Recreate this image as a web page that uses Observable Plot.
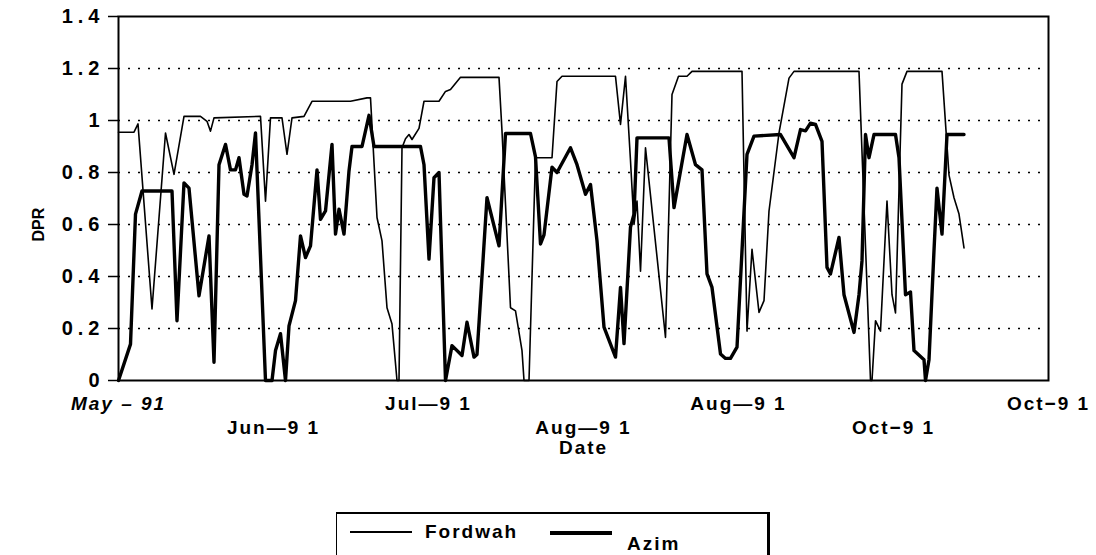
<!DOCTYPE html>
<html>
<head>
<meta charset="utf-8">
<script src="https://cdn.jsdelivr.net/npm/d3@7"></script>
<script src="https://cdn.jsdelivr.net/npm/@observablehq/plot@0.6"></script>
<style>
  html, body { margin: 0; padding: 0; background: #fff; width: 1096px; height: 555px; overflow: hidden; }
  #chart { position: absolute; left: 0; top: 0; }
  g[aria-label="y-axis tick label"] text { letter-spacing: 5px; }
  .xlab text { letter-spacing: 2px; }
  #legend { position: absolute; left: 336px; top: 512px; width: 430px; height: 60px;
            border-top: 2px solid #000; border-left: 1.5px solid #000; border-right: 3px solid #000;
            font-family: "Liberation Sans", Arial, sans-serif; font-weight: bold; font-size: 19px; letter-spacing: 2px; }
  .sw { position: absolute; height: 0; border-top-style: solid; border-top-color: #000; }
  .lt { position: absolute; line-height: 19px; }
</style>
</head>
<body>
<div id="chart"></div>
<div id="legend">
  <div class="sw" style="left:13px; top:17px; width:62px; border-top-width:2px;"></div>
  <div class="lt" style="left:88px; top:8px;">Fordwah</div>
  <div class="sw" style="left:213px; top:17px; width:62px; border-top-width:4px;"></div>
  <div class="lt" style="left:290px; top:20px;">Azim</div>
</div>
<script>
// ---- data (day index since 1 May 1991, DPR) ----
const fordwahDay = [0,3.1,3.9,6.7,9.4,11.1,13.1,16.4,17.7,18.4,19.1,28.4,29.4,30.4,32.7,33.7,34.7,37.1,38.7,46.4,
  49.7,50.4,51.7,52.7,53.7,54.7,55.7,56.1,56.7,57.4,58.1,58.7,60.1,61.1,64.1,65.4,66.4,68.4,76.1,76.7,
  78.4,79.4,80.7,81.1,82.1,83.4,86.7,87.7,88.7,99.4,100.4,101.4,102.4,103.1,103.7,104.4,105.4,109.4,110.7,112,
  113.7,114.7,124.7,125.7,126.7,128.1,129.1,130.1,132.1,134.1,135.1,148.1,150.4,150.7,151.4,152.4,153.7,154.7,155.4,156.7,
  157.7,164.7,166.1,167.1,168.1,169.1];
const fordwahDPR = [0.955,0.955,0.987,0.275,0.952,0.793,1.016,1.016,0.997,0.959,1.01,1.016,0.69,1.01,1.01,0.87,1.01,1.016,1.074,1.074,
  1.087,1.087,0.627,0.537,0.28,0.217,0,0,0.895,0.93,0.946,0.927,0.97,1.074,1.074,1.112,1.119,1.166,1.166,0.959,
  0.28,0.268,0.115,0,0,0.857,0.857,1.15,1.17,1.17,0.985,1.17,0.845,0.6,0.69,0.42,0.895,0.166,1.1,1.17,
  1.17,1.189,1.189,0.19,0.505,0.262,0.307,0.652,0.952,1.163,1.189,1.189,0,0,0.23,0.19,0.69,0.33,0.26,1.14,
  1.189,1.189,0.79,0.703,0.64,0.51];

const azimDay = [0,2.4,3.4,4.7,10.7,11.7,13.1,14.1,16.1,18.1,19.1,20.1,21.4,22.4,23.4,24.1,25.1,25.7,26.7,27.4,
  29.4,30.7,31.4,32.4,33.4,34.1,35.4,36.4,37.4,38.4,39.7,40.4,41.4,42.7,43.4,44.1,45.1,46.1,46.7,48.7,
  50.1,51.1,60.4,61.1,62.1,63.1,64.1,65.4,66.7,68.7,69.7,71.1,71.7,73.7,76.1,77.4,82.4,83.4,84.4,85.1,
  86.7,87.7,90.4,91.7,93.4,94.4,95.7,97.1,99.4,100.4,101.1,102.4,103.1,103.7,110.1,111.1,113.7,115.4,116.7,117.7,
  118.7,120.4,121.4,122.4,123.7,125.7,127.1,132.4,135.1,136.4,137.4,138.4,139.4,140.7,141.7,142.4,144.1,145.1,147.1,148.1,
  148.7,149.4,150.1,151.1,155.4,156.1,157.4,158.4,159.1,161.1,161.4,162.1,163.1,163.7,164.7,165.7,169.1];
const azimDPR = [0,0.14,0.64,0.729,0.729,0.23,0.76,0.74,0.326,0.556,0.07,0.83,0.908,0.81,0.81,0.857,0.716,0.71,0.83,0.952,
  0,0,0.115,0.18,0,0.21,0.307,0.556,0.473,0.518,0.81,0.62,0.652,0.908,0.563,0.659,0.563,0.806,0.9,0.9,
  1.02,0.9,0.9,0.83,0.467,0.78,0.8,0,0.134,0.096,0.224,0.09,0.1,0.703,0.518,0.95,0.95,0.86,0.525,0.56,
  0.82,0.8,0.895,0.83,0.716,0.754,0.537,0.205,0.09,0.358,0.142,0.59,0.64,0.933,0.933,0.665,0.946,0.83,0.81,0.41,
  0.358,0.102,0.085,0.085,0.128,0.87,0.94,0.946,0.857,0.965,0.96,0.99,0.985,0.92,0.435,0.41,0.55,0.33,0.185,0.33,
  0.46,0.946,0.857,0.946,0.946,0.857,0.33,0.34,0.115,0.08,0,0.08,0.5,0.74,0.563,0.946,0.946];

const xTickDays = [0, 31, 62, 93, 124, 155, 186];
const xTickLabels = ["May – 91", "Jun—9 1", "Jul—9 1", "Aug—9 1", "Aug—9 1", "Oct−9 1", "Oct−9 1"];
const yTicks = [0, 0.2, 0.4, 0.6, 0.8, 1, 1.2, 1.4];
const gridTicks = [0.2, 0.4, 0.6, 0.8, 1, 1.2];

const fordwah = fordwahDay.map((d, i) => ({day: d, dpr: fordwahDPR[i]}));
const azim = azimDay.map((d, i) => ({day: d, dpr: azimDPR[i]}));
const labelOf = new Map(xTickDays.map((d, i) => [d, xTickLabels[i]]));
const upper = xTickDays.filter((d, i) => i % 2 === 0 && i > 0);
const lower = xTickDays.filter((d, i) => i % 2 === 1);

const font = "'Liberation Sans', Arial, sans-serif";

const chart = Plot.plot({
  width: 1096,
  height: 470,
  marginLeft: 118,
  marginRight: 48,
  marginTop: 16,
  marginBottom: 90,
  style: {fontFamily: font, background: "#fff", color: "#000"},
  x: {domain: [0, 186], axis: null},
  y: {domain: [0, 1.4], axis: null},
  marks: [
    Plot.gridY(gridTicks, {stroke: "#000", strokeOpacity: 1, strokeWidth: 1.6, strokeDasharray: "2,8"}),
    Plot.line(fordwah, {x: "day", y: "dpr", stroke: "#000", strokeWidth: 1.6, strokeLinejoin: "round"}),
    Plot.line(azim, {x: "day", y: "dpr", stroke: "#000", strokeWidth: 3.4, strokeLinejoin: "round"}),
    Plot.frame({stroke: "#000", strokeWidth: 2}),
    Plot.axisY({ticks: yTicks, tickSize: 10, tickPadding: 4, strokeWidth: 1.5,
      tickFormat: d => String(+d.toFixed(1)), fontSize: 20, fontWeight: "bold", label: null}),
    Plot.text([xTickDays[0]], {x: d => d, text: d => labelOf.get(d), frameAnchor: "bottom", dy: 29,
      fontSize: 19, fontWeight: "bold", fontStyle: "italic", className: "xlab"}),
    Plot.text(upper, {x: d => d, text: d => labelOf.get(d), frameAnchor: "bottom", dy: 29,
      fontSize: 19, fontWeight: "bold", className: "xlab"}),
    Plot.text(lower, {x: d => d, text: d => labelOf.get(d), frameAnchor: "bottom", dy: 53,
      fontSize: 19, fontWeight: "bold", className: "xlab"}),
    Plot.text(["Date"], {frameAnchor: "bottom", dy: 73, fontSize: 19, fontWeight: "bold", className: "xlab"}),
    Plot.text(["DPR"], {frameAnchor: "left", dx: -80, dy: 43, rotate: -90, fontSize: 16, fontWeight: "bold"})
  ]
});
document.getElementById("chart").appendChild(chart);
</script>
</body>
</html>
